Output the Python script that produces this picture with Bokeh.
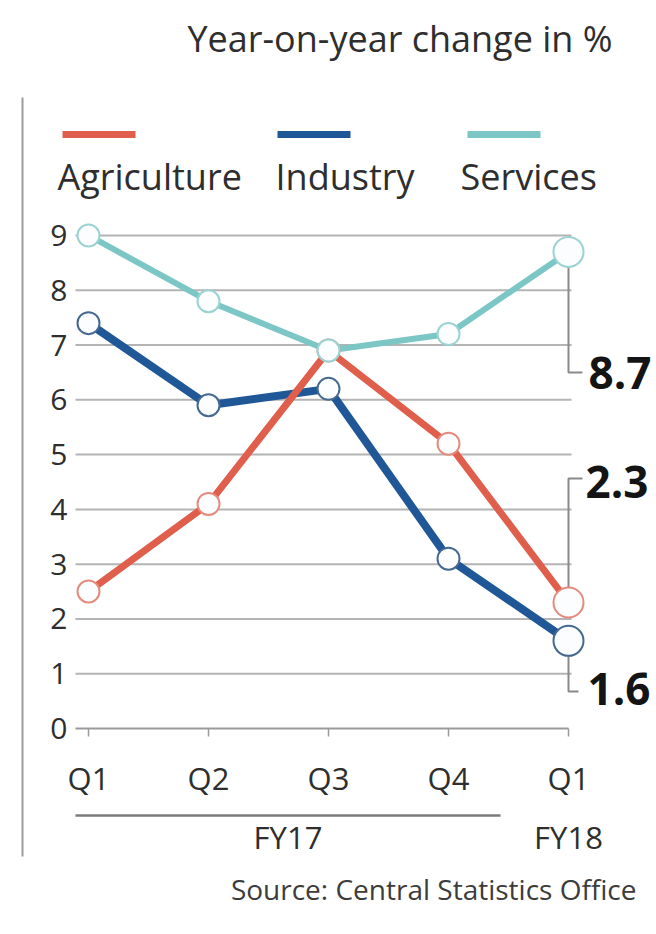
from bokeh.plotting import figure
from bokeh.models import Range1d
from bokeh.core.properties import value
from bokeh.embed import file_html
from bokeh.resources import INLINE

# ---------------- data ----------------
quarters = ["Q1", "Q2", "Q3", "Q4", "Q1"]
fiscal_years = ["FY17", "FY18"]
series_names = ["Agriculture", "Industry", "Services"]
agriculture = [2.5, 4.1, 6.9, 5.2, 2.3]
industry = [7.4, 5.9, 6.2, 3.1, 1.6]
services = [9.0, 7.8, 6.9, 7.2, 8.7]
y_ticks = [0, 1, 2, 3, 4, 5, 6, 7, 8, 9]
title_text = "Year-on-year change in %"
source_text = "Source: Central Statistics Office"

# ---------------- layout helpers (pixel -> data) ----------------
W, H = 656, 934
X0_PX, XU = 88, 120.0      # pixel of first quarter, pixels per quarter
Y0_PX, YU = 728, 54.78     # pixel of value 0, pixels per unit


def X(px):
    return (px - X0_PX) / XU


def Y(py):
    return (Y0_PX - py) / YU


FONT = value("Open Sans")
TXT = "#2e2e2e"
colors = ["#df5f4c", "#1f5797", "#7cc6c6"]
outline_colors = ["#e58a7c", "#46698f", "#9bd3d3"]
widths = [7, 8, 6]

p = figure(width=W, height=H,
           x_range=Range1d(X(0), X(W)), y_range=Range1d(Y(H), Y(0)),
           output_backend="svg", toolbar_location=None,
           x_axis_type=None, y_axis_type=None, min_border=0)
p.outline_line_color = None
p.background_fill_color = "white"
p.border_fill_color = "white"

n = len(quarters)
xs = list(range(n))
last = n - 1

# left border rule
p.segment(x0=[X(22)], y0=[Y(97)], x1=[X(22)], y1=[Y(856)],
          line_color="#9c9c9c", line_width=2)

# title
p.text(x=[X(612)], y=[Y(38)], text=[title_text], text_font=FONT,
       text_font_size="36px", text_align="right", text_baseline="middle",
       text_color=TXT)

# legend
leg_swatch_left = [62, 277, 467]
leg_text_left = [57, 275, 460]
p.segment(x0=[X(v) for v in leg_swatch_left], y0=[Y(134)] * 3,
          x1=[X(v + 73) for v in leg_swatch_left], y1=[Y(134)] * 3,
          line_color=colors, line_width=7)
p.text(x=[X(v) for v in leg_text_left], y=[Y(176)] * 3, text=series_names,
       text_font=FONT, text_font_size="36px", text_align="left",
       text_baseline="middle", text_color=TXT)

# grid lines
grid_vals = [t for t in y_ticks if t > 0]
p.segment(x0=[X(75)] * len(grid_vals), y0=grid_vals,
          x1=[last + 0.025] * len(grid_vals), y1=grid_vals,
          line_color="#b4b4b4", line_width=2)
# x axis line and ticks
p.segment(x0=[X(75)], y0=[0], x1=[last], y1=[0], line_color="#9a9a9a", line_width=2)
p.segment(x0=xs, y0=[0] * n, x1=xs, y1=[-8 / YU] * n, line_color="#9a9a9a", line_width=1.5)

# y tick labels
p.text(x=[X(67)] * len(y_ticks), y=y_ticks, text=[str(t) for t in y_ticks],
       text_font=FONT, text_font_size="30px", text_align="right",
       text_baseline="middle", text_color=TXT)
# x tick labels
p.text(x=xs, y=[Y(777)] * n, text=quarters, text_font=FONT,
       text_font_size="31px", text_align="center", text_baseline="middle",
       text_color=TXT)
# fiscal-year grouping
fy17_end = X(500)
p.segment(x0=[X(75)], y0=[Y(815)], x1=[fy17_end], y1=[Y(815)],
          line_color="#7a7a7a", line_width=2.5)
p.text(x=[(X(75) + fy17_end) / 2, last], y=[Y(836)] * 2, text=fiscal_years,
       text_font=FONT, text_font_size="31px", text_align="center",
       text_baseline="middle", text_color=TXT)

# source
p.text(x=[X(636)], y=[Y(888)], text=[source_text], text_font=FONT,
       text_font_size="28px", text_align="right", text_baseline="middle",
       text_color="#3c3c3c")

# brackets for last values
last_vals = [services[last], agriculture[last], industry[last]]
bracket_ends = [Y(372), Y(478), Y(691)]
bracket_tips = [X(582), X(582), X(578)]
for v, e, t in zip(last_vals, bracket_ends, bracket_tips):
    p.line(x=[last, last, t], y=[v, e, e], line_color="#8a8a8a", line_width=2)
p.text(x=[X(588), X(585), X(587)], y=[Y(372), Y(481), Y(688)],
       text=[f"{v:.1f}" for v in last_vals], text_font=FONT,
       text_font_size="44px", text_font_style="bold", text_align="left",
       text_baseline="middle", text_color="#141414")

# series lines
order = [1, 0, 2]
data = [agriculture, industry, services]
for i in order:
    p.line(x=xs, y=data[i], line_color=colors[i], line_width=widths[i],
           line_join="round")
sizes = [22] * (n - 1) + [30]
for i in order:
    p.scatter(x=xs, y=data[i], size=sizes, fill_color="#fbfdfe",
              line_color=outline_colors[i], line_width=2)

open("out.html", "w").write(file_html(p, INLINE))
